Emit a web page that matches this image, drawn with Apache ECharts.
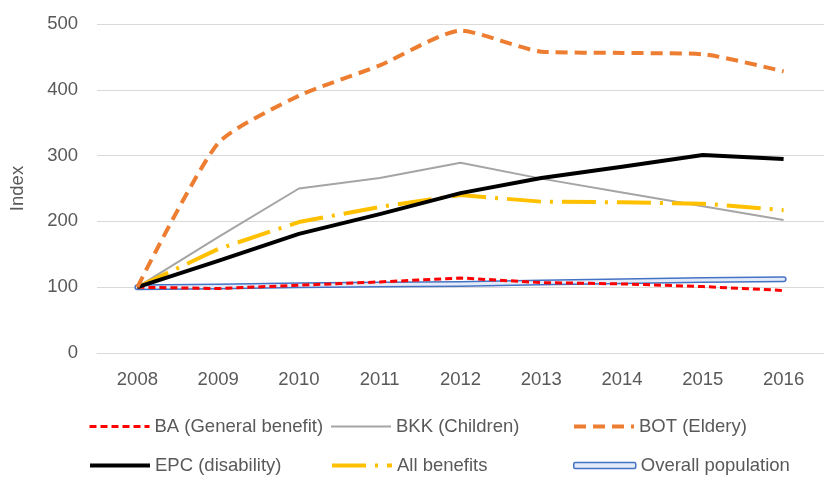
<!DOCTYPE html>
<html>
<head>
<meta charset="utf-8">
<script src="https://cdn.jsdelivr.net/npm/echarts@6/dist/echarts.min.js"></script>
<style>
  html, body { margin: 0; padding: 0; background: #fff; }
  #chart { width: 824px; height: 491px; }
</style>
</head>
<body>
<div id="chart"></div>
<script>
// Index (2008 = 100) of recipients per benefit type
const years = ['2008', '2009', '2010', '2011', '2012', '2013', '2014', '2015', '2016'];
const yTicks = [0, 100, 200, 300, 400, 500];

const baGeneral   = [100, 98, 103, 108, 114, 107, 105, 101, 95];
const bkkChildren = [100, 176, 250, 266, 289, 265, 244, 223, 202];
const botElderly  = [100, 319, 391, 437, 490, 458, 456, 454, 428];
const epcDisab    = [100, 140, 181, 211, 243, 266, 283, 301, 295];
const allBenefits = [100, 158, 199, 222, 240, 230, 229, 227, 217];
const population  = [100, 101, 103, 104, 105, 107, 109, 111, 112];

const FONT = 'Liberation Sans';
const FS = 18.5;
const TXT = '#595959';

const chart = echarts.init(document.getElementById('chart'), null, { renderer: 'canvas' });

// one legend block per entry, laid out in a 3 x 2 grid
function legendAt(name, left, top, lineWidth, extra) {
  return Object.assign({
    left: left, top: top,
    orient: 'horizontal',
    itemWidth: 60, itemHeight: 10, itemGap: 4,
    selectedMode: false,
    itemStyle: { opacity: 0 },
    lineStyle: { width: lineWidth },
    textStyle: { fontFamily: FONT, fontSize: FS, color: TXT },
    data: [name]
  }, extra || {});
}

chart.setOption({
  animation: false,
  backgroundColor: '#ffffff',
  grid: { left: 97, right: 0, top: 24, bottom: 138, containLabel: false },
  xAxis: {
    type: 'category',
    data: years,
    boundaryGap: true,
    axisLine: { show: true, lineStyle: { color: '#d9d9d9', width: 1 } },
    axisTick: { show: false },
    axisLabel: { fontFamily: FONT, fontSize: FS, color: TXT, margin: 17 }
  },
  yAxis: {
    type: 'value',
    min: yTicks[0], max: yTicks[yTicks.length - 1], interval: 100,
    name: 'Index',
    nameLocation: 'middle',
    nameRotate: 90,
    nameGap: 70,
    nameTextStyle: { fontFamily: FONT, fontSize: FS, color: TXT },
    axisLine: { show: false },
    axisTick: { show: false },
    axisLabel: { fontFamily: FONT, fontSize: FS, color: TXT, margin: 19 },
    splitLine: { lineStyle: { color: '#d9d9d9', width: 1 } }
  },
  legend: [
    legendAt('BA (General benefit)', 83, 412, 3),
    legendAt('BKK (Children)', 325, 412, 2),
    legendAt('BOT (Eldery)', 567, 412, 4),
    legendAt('EPC (disability)', 83, 451, 4),
    legendAt('All benefits', 325, 451, 4),
    legendAt('Overall population', 568, 451, 1, {
      data: [{
        name: 'Overall population',
        icon: 'roundRect',
        itemStyle: { color: '#e3ebf8', borderColor: '#4472c4', borderWidth: 1.5, opacity: 1 }
      }],
      itemWidth: 62, itemHeight: 6
    })
  ],
  series: [
    {
      name: 'Overall population', type: 'line', data: population,
      symbol: 'none', z: 2,
      lineStyle: { color: '#4472c4', width: 6, cap: 'round', join: 'round' },
      itemStyle: { color: '#4472c4' }
    },
    {
      name: 'Overall population core', type: 'line', data: population,
      symbol: 'none', z: 3, silent: true,
      lineStyle: { color: '#e3ebf8', width: 3, cap: 'round', join: 'round' }
    },
    {
      name: 'BA (General benefit)', type: 'line', data: baGeneral,
      symbol: 'none', z: 4,
      lineStyle: { color: '#ff0000', width: 3, type: [7, 4] },
      itemStyle: { color: '#ff0000' }
    },
    {
      name: 'BKK (Children)', type: 'line', data: bkkChildren,
      symbol: 'none', z: 4,
      lineStyle: { color: '#a5a5a5', width: 2 },
      itemStyle: { color: '#a5a5a5' }
    },
    {
      name: 'All benefits', type: 'line', data: allBenefits,
      symbol: 'none', z: 5,
      lineStyle: { color: '#ffc000', width: 4, type: [34, 9, 3, 9] },
      itemStyle: { color: '#ffc000' }
    },
    {
      name: 'EPC (disability)', type: 'line', data: epcDisab,
      symbol: 'none', z: 6,
      lineStyle: { color: '#000000', width: 4, join: 'round' },
      itemStyle: { color: '#000000' }
    },
    {
      name: 'BOT (Eldery)', type: 'line', data: botElderly,
      symbol: 'none', z: 6, smooth: 0.2,
      lineStyle: { color: '#ed7d31', width: 4, type: [12, 7] },
      itemStyle: { color: '#ed7d31' }
    }
  ]
});
</script>
</body>
</html>
